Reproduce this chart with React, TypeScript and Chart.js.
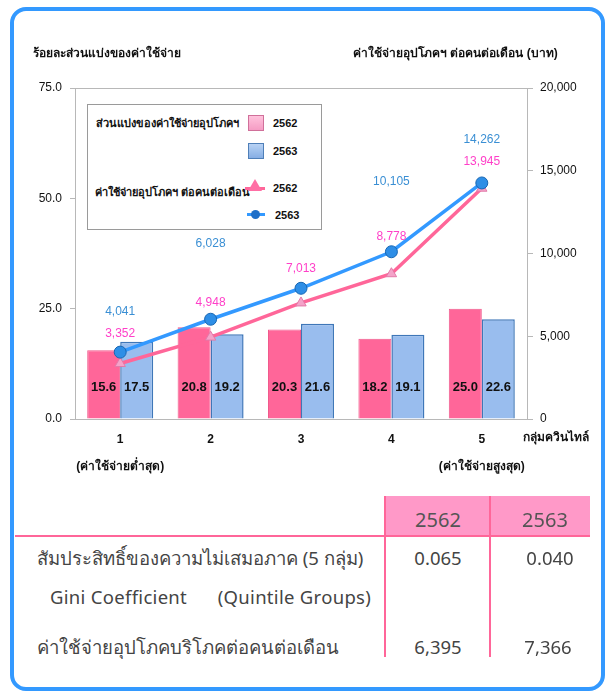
import React, { useEffect, useRef } from 'react';
import { Chart, registerables } from 'chart.js';

Chart.register(...registerables);

// ---------- data ----------
const categories: (string | string[])[] = [
  ['1', '(ค่าใช้จ่ายต่ำสุด)'],
  '2',
  '3',
  '4',
  ['5', '(ค่าใช้จ่ายสูงสุด)'],
];
const seriesYears = ['2562', '2563'];
const share2562 = [15.6, 20.8, 20.3, 18.2, 25.0];
const share2563 = [17.5, 19.2, 21.6, 19.1, 22.6];
const spend2562 = [3352, 4948, 7013, 8778, 13945];
const spend2563 = [4041, 6028, 7899, 10105, 14262];
const leftTicks = [0, 25, 50, 75];
const rightTicks = [0, 5000, 10000, 15000, 20000];

const leftAxisTitle = 'ร้อยละส่วนแบ่งของค่าใช้จ่าย';
const rightAxisTitle = 'ค่าใช้จ่ายอุปโภคฯ ต่อคนต่อเดือน (บาท)';
const xAxisTitle = 'กลุ่มควินไทล์';
const legendBarTitle = 'ส่วนแบ่งของค่าใช้จ่ายอุปโภคฯ';
const legendLineTitle = 'ค่าใช้จ่ายอุปโภคฯ ต่อคนต่อเดือน';

const tableHeaders = ['2562', '2563'];
const tableRowGini = 'สัมประสิทธิ์ของความไม่เสมอภาค (5 กลุ่ม)';
const tableRowGiniEn = 'Gini Coefficient      (Quintile Groups)';
const tableRowSpend = 'ค่าใช้จ่ายอุปโภคบริโภคต่อคนต่อเดือน';
const giniValues = ['0.065', '0.040'];
const avgSpendValues = ['6,395', '7,366'];

// ---------- styles ----------
const CHART_FONT = "'Liberation Sans', Arial, sans-serif";
const TABLE_FONT = "'Noto Sans', 'Open Sans', sans-serif";
const PINK = '#ff6699';
const PINK_BAR = '#ff6699';
const BLUE_BAR = '#99bdee';
const BLUE_LINE = '#3399ff';
const PINK_LABEL = '#ff3fc8';
const BLUE_LABEL = '#3a8fd4';
const AXIS_GRAY = '#b8b8b8';

const fmt = (v: number) => v.toLocaleString('en-US');

const valueLabels = {
  id: 'valueLabels',
  afterDatasetsDraw(chart: any, _args: any, opts: any) {
    const ctx = chart.ctx;
    const y0 = chart.scales.y.getPixelForValue(0);
    ctx.save();
    ctx.textAlign = 'center';
    ctx.textBaseline = 'middle';
    chart.data.datasets.forEach((ds: any, i: number) => {
      const meta = chart.getDatasetMeta(i);
      if (meta.hidden) return;
      meta.data.forEach((el: any, j: number) => {
        const v = ds.data[j] as number;
        if (ds.type === 'bar') {
          ctx.font = `bold 13px ${CHART_FONT}`;
          ctx.fillStyle = '#111';
          ctx.fillText(v.toFixed(1), el.x, y0 - opts.barLabelRise);
        } else {
          ctx.font = `12px ${CHART_FONT}`;
          ctx.fillStyle = ds.labelColor;
          const lift = opts.lineLift[ds.liftKey][j];
          ctx.fillText(fmt(v), el.x, el.y - lift);
        }
      });
    });
    ctx.restore();
  },
};

function ChartCanvas() {
  const ref = useRef<HTMLCanvasElement | null>(null);
  useEffect(() => {
    if (!ref.current) return;
    const chart = new Chart(ref.current, {
      type: 'bar',
      data: {
        labels: categories as any,
        datasets: [
          {
            type: 'line',
            label: seriesYears[1],
            data: spend2563,
            yAxisID: 'y1',
            borderColor: BLUE_LINE,
            borderWidth: 3.5,
            backgroundColor: '#2e8ee6',
            pointStyle: 'circle',
            pointRadius: 6,
            pointBackgroundColor: '#2e8ee6',
            pointBorderColor: '#1766b3',
            pointBorderWidth: 1,
            order: 0,
            labelColor: BLUE_LABEL,
            liftKey: 'b',
          } as any,
          {
            type: 'line',
            label: seriesYears[0],
            data: spend2562,
            yAxisID: 'y1',
            borderColor: PINK,
            borderWidth: 3.5,
            pointStyle: 'triangle',
            pointRadius: 6,
            pointBackgroundColor: '#f4a3c9',
            pointBorderColor: '#e27aa9',
            pointBorderWidth: 1,
            order: 1,
            labelColor: PINK_LABEL,
            liftKey: 'p',
          } as any,
          {
            type: 'bar',
            label: seriesYears[0],
            data: share2562,
            yAxisID: 'y',
            backgroundColor: PINK_BAR,
            borderColor: '#f05a8c',
            borderWidth: 1,
            categoryPercentage: 0.73,
            barPercentage: 1,
            order: 2,
          } as any,
          {
            type: 'bar',
            label: seriesYears[1],
            data: share2563,
            yAxisID: 'y',
            backgroundColor: BLUE_BAR,
            borderColor: '#3f77b8',
            borderWidth: 1.5,
            categoryPercentage: 0.73,
            barPercentage: 1,
            order: 2,
          } as any,
        ],
      },
      options: {
        animation: false,
        responsive: false,
        maintainAspectRatio: false,
        layout: { padding: { top: 88, left: 0, right: 0, bottom: 0 } },
        plugins: {
          legend: { display: false },
          tooltip: { enabled: false },
          valueLabels: {
            barLabelRise: 32,
            lineLift: { p: [30, 34, 34, 37, 27], b: [40, 76, 75, 70, 43] },
          },
        } as any,
        scales: {
          x: {
            grid: { display: false, drawTicks: false },
            border: { display: true, color: AXIS_GRAY },
            ticks: {
              color: '#111',
              font: { family: CHART_FONT, size: 12, weight: 'bold', lineHeight: 2.25 },
              padding: 7,
              maxRotation: 0,
              autoSkip: false,
            },
            afterFit: (s: any) => { s.height = 71; },
          },
          y: {
            position: 'left',
            min: 0,
            max: 75,
            afterBuildTicks: (s: any) => { s.ticks = leftTicks.map((v) => ({ value: v })); },
            grid: {
              color: (c: any) => (c.tick && c.tick.value === 75 ? AXIS_GRAY : 'rgba(0,0,0,0)'),
              tickColor: AXIS_GRAY,
              tickLength: 5,
            },
            border: { display: true, color: AXIS_GRAY },
            ticks: {
              color: '#111',
              font: { family: CHART_FONT, size: 12 },
              padding: 8,
              callback: (v: any) => Number(v).toFixed(1),
            },
            afterFit: (s: any) => { s.width = 75; },
          },
          y1: {
            position: 'right',
            min: 0,
            max: 20000,
            afterBuildTicks: (s: any) => { s.ticks = rightTicks.map((v) => ({ value: v })); },
            grid: { drawOnChartArea: false, tickColor: AXIS_GRAY, tickLength: 6 },
            border: { display: true, color: AXIS_GRAY },
            ticks: {
              color: '#111',
              font: { family: CHART_FONT, size: 12 },
              padding: 7,
              callback: (v: any) => fmt(Number(v)),
            },
            afterFit: (s: any) => { s.width = 80; },
          },
        },
      } as any,
      plugins: [valueLabels as any],
    });
    return () => chart.destroy();
  }, []);
  return <canvas ref={ref} width={607} height={490} style={{ position: 'absolute', left: 0, top: 0, width: 607, height: 490 }} />;
}

const abs = (s: React.CSSProperties): React.CSSProperties => ({ position: 'absolute', ...s });

function LegendBox() {
  const txt: React.CSSProperties = { fontFamily: CHART_FONT, fontSize: 11, fontWeight: 'bold', color: '#111', lineHeight: '16px', whiteSpace: 'nowrap' };
  const sq = (bg: string, bd: string): React.CSSProperties => abs({ left: 160, width: 14, height: 14, background: bg, border: `1px solid ${bd}` });
  return (
    <div style={abs({ left: 87, top: 104, width: 235, height: 126, border: '1px solid #9a9a9a', background: '#fff', boxSizing: 'border-box' })}>
      <div style={{ ...txt, ...abs({ left: 8, top: 10 }) }}>{legendBarTitle}</div>
      <div style={{ ...sq('linear-gradient(#ffc2dc, #f59cc4)', '#d0709a'), top: 10 }} />
      <div style={{ ...txt, ...abs({ left: 185, top: 10 }) }}>{seriesYears[0]}</div>
      <div style={{ ...sq('linear-gradient(#b8d2f4, #86aee4)', '#4f7fb8'), top: 38 }} />
      <div style={{ ...txt, ...abs({ left: 185, top: 38 }) }}>{seriesYears[1]}</div>
      <div style={{ ...txt, ...abs({ left: 7, top: 79 }) }}>{legendLineTitle}</div>
      <div style={abs({ left: 157, top: 82, width: 20, height: 3, background: PINK })} />
      <div style={abs({ left: 160, top: 74, width: 0, height: 0, borderLeft: '7px solid transparent', borderRight: '7px solid transparent', borderBottom: '12px solid #ff6fa5' })} />
      <div style={{ ...txt, ...abs({ left: 185, top: 75 }) }}>{seriesYears[0]}</div>
      <div style={abs({ left: 159, top: 108, width: 18, height: 3, background: BLUE_LINE })} />
      <div style={abs({ left: 163, top: 105, width: 9, height: 9, borderRadius: '50%', background: '#1f6fc8' })} />
      <div style={{ ...txt, ...abs({ left: 187, top: 102 }) }}>{seriesYears[1]}</div>
    </div>
  );
}

function Table() {
  const t: React.CSSProperties = { fontFamily: TABLE_FONT, fontSize: 18.5, color: '#444', lineHeight: '26px', whiteSpace: 'pre' };
  const center = (x: number, y: number, s: string, extra: React.CSSProperties = {}) => (
    <div style={{ ...t, ...abs({ left: x - 60, top: y - 13, width: 120, textAlign: 'center' }), ...extra }}>{s}</div>
  );
  return (
    <>
      <div style={abs({ left: 385, top: 496, width: 205, height: 40, background: '#ff99c8' })} />
      <div style={abs({ left: 15, top: 535, width: 575, height: 2, background: PINK })} />
      <div style={abs({ left: 384, top: 496, width: 2, height: 161, background: PINK })} />
      <div style={abs({ left: 489, top: 496, width: 2, height: 161, background: PINK })} />
      {center(438, 520, tableHeaders[0], { fontSize: 20, color: '#555' })}
      {center(545, 520, tableHeaders[1], { fontSize: 20, color: '#555' })}
      <div style={{ ...t, ...abs({ left: 37, top: 545 }) }}>{tableRowGini}</div>
      <div style={{ ...t, ...abs({ left: 50, top: 584, letterSpacing: 0.3 }) }}>{tableRowGiniEn}</div>
      <div style={{ ...t, ...abs({ left: 37, top: 634 }) }}>{tableRowSpend}</div>
      {center(438, 558, giniValues[0])}
      {center(550, 558, giniValues[1])}
      {center(438, 647, avgSpendValues[0])}
      {center(548, 647, avgSpendValues[1])}
    </>
  );
}

export default function App() {
  const title: React.CSSProperties = { fontFamily: CHART_FONT, fontSize: 12, fontWeight: 'bold', color: '#111', whiteSpace: 'nowrap', lineHeight: '16px' };
  return (
    <div style={abs({ left: 0, top: 0, width: 607, height: 693, background: '#fff', overflow: 'hidden' })}>
      <div style={abs({ left: 10, top: 7, width: 595, height: 684, border: '4px solid #3399ff', borderRadius: 16, boxSizing: 'border-box' })} />
      <ChartCanvas />
      <div style={{ ...title, ...abs({ left: 33, top: 45 }) }}>{leftAxisTitle}</div>
      <div style={{ ...title, ...abs({ left: 353, top: 45 }) }}>{rightAxisTitle}</div>
      <div style={{ ...title, ...abs({ left: 523, top: 429 }) }}>{xAxisTitle}</div>
      <LegendBox />
      <Table />
    </div>
  );
}
